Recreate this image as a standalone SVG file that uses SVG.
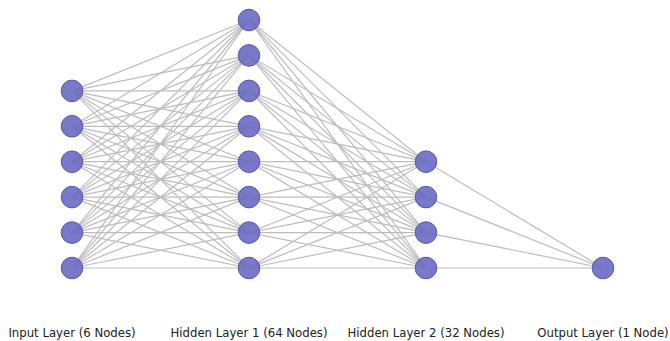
<svg xmlns="http://www.w3.org/2000/svg" width="670" height="341" viewBox="0 0 670 341">
<style>
.e{stroke:#bcbcbc;stroke-width:1.2;fill:none}
.n{fill:#6a6ac4;stroke:#5656b0;stroke-width:1;fill-opacity:0.9}
.t{font-family:"DejaVu Sans",sans-serif;font-size:11.7px;fill:#222;text-anchor:middle}
</style>
<rect width="670" height="341" fill="#fff"/>
<g id="edges">
<line class="e" x1="72" y1="268" x2="249" y2="268"/><line class="e" x1="72" y1="268" x2="249" y2="232.6"/><line class="e" x1="72" y1="268" x2="249" y2="197.1"/><line class="e" x1="72" y1="268" x2="249" y2="161.7"/><line class="e" x1="72" y1="268" x2="249" y2="126.3"/><line class="e" x1="72" y1="268" x2="249" y2="90.9"/><line class="e" x1="72" y1="268" x2="249" y2="55.4"/><line class="e" x1="72" y1="268" x2="249" y2="20"/>
<line class="e" x1="72" y1="232.6" x2="249" y2="268"/><line class="e" x1="72" y1="232.6" x2="249" y2="232.6"/><line class="e" x1="72" y1="232.6" x2="249" y2="197.1"/><line class="e" x1="72" y1="232.6" x2="249" y2="161.7"/><line class="e" x1="72" y1="232.6" x2="249" y2="126.3"/><line class="e" x1="72" y1="232.6" x2="249" y2="90.9"/><line class="e" x1="72" y1="232.6" x2="249" y2="55.4"/><line class="e" x1="72" y1="232.6" x2="249" y2="20"/>
<line class="e" x1="72" y1="197.1" x2="249" y2="268"/><line class="e" x1="72" y1="197.1" x2="249" y2="232.6"/><line class="e" x1="72" y1="197.1" x2="249" y2="197.1"/><line class="e" x1="72" y1="197.1" x2="249" y2="161.7"/><line class="e" x1="72" y1="197.1" x2="249" y2="126.3"/><line class="e" x1="72" y1="197.1" x2="249" y2="90.9"/><line class="e" x1="72" y1="197.1" x2="249" y2="55.4"/><line class="e" x1="72" y1="197.1" x2="249" y2="20"/>
<line class="e" x1="72" y1="161.7" x2="249" y2="268"/><line class="e" x1="72" y1="161.7" x2="249" y2="232.6"/><line class="e" x1="72" y1="161.7" x2="249" y2="197.1"/><line class="e" x1="72" y1="161.7" x2="249" y2="161.7"/><line class="e" x1="72" y1="161.7" x2="249" y2="126.3"/><line class="e" x1="72" y1="161.7" x2="249" y2="90.9"/><line class="e" x1="72" y1="161.7" x2="249" y2="55.4"/><line class="e" x1="72" y1="161.7" x2="249" y2="20"/>
<line class="e" x1="72" y1="126.3" x2="249" y2="268"/><line class="e" x1="72" y1="126.3" x2="249" y2="232.6"/><line class="e" x1="72" y1="126.3" x2="249" y2="197.1"/><line class="e" x1="72" y1="126.3" x2="249" y2="161.7"/><line class="e" x1="72" y1="126.3" x2="249" y2="126.3"/><line class="e" x1="72" y1="126.3" x2="249" y2="90.9"/><line class="e" x1="72" y1="126.3" x2="249" y2="55.4"/><line class="e" x1="72" y1="126.3" x2="249" y2="20"/>
<line class="e" x1="72" y1="90.9" x2="249" y2="268"/><line class="e" x1="72" y1="90.9" x2="249" y2="232.6"/><line class="e" x1="72" y1="90.9" x2="249" y2="197.1"/><line class="e" x1="72" y1="90.9" x2="249" y2="161.7"/><line class="e" x1="72" y1="90.9" x2="249" y2="126.3"/><line class="e" x1="72" y1="90.9" x2="249" y2="90.9"/><line class="e" x1="72" y1="90.9" x2="249" y2="55.4"/><line class="e" x1="72" y1="90.9" x2="249" y2="20"/>
<line class="e" x1="249" y1="268" x2="426" y2="268"/><line class="e" x1="249" y1="268" x2="426" y2="232.6"/><line class="e" x1="249" y1="268" x2="426" y2="197.1"/><line class="e" x1="249" y1="268" x2="426" y2="161.7"/>
<line class="e" x1="249" y1="232.6" x2="426" y2="268"/><line class="e" x1="249" y1="232.6" x2="426" y2="232.6"/><line class="e" x1="249" y1="232.6" x2="426" y2="197.1"/><line class="e" x1="249" y1="232.6" x2="426" y2="161.7"/>
<line class="e" x1="249" y1="197.1" x2="426" y2="268"/><line class="e" x1="249" y1="197.1" x2="426" y2="232.6"/><line class="e" x1="249" y1="197.1" x2="426" y2="197.1"/><line class="e" x1="249" y1="197.1" x2="426" y2="161.7"/>
<line class="e" x1="249" y1="161.7" x2="426" y2="268"/><line class="e" x1="249" y1="161.7" x2="426" y2="232.6"/><line class="e" x1="249" y1="161.7" x2="426" y2="197.1"/><line class="e" x1="249" y1="161.7" x2="426" y2="161.7"/>
<line class="e" x1="249" y1="126.3" x2="426" y2="268"/><line class="e" x1="249" y1="126.3" x2="426" y2="232.6"/><line class="e" x1="249" y1="126.3" x2="426" y2="197.1"/><line class="e" x1="249" y1="126.3" x2="426" y2="161.7"/>
<line class="e" x1="249" y1="90.9" x2="426" y2="268"/><line class="e" x1="249" y1="90.9" x2="426" y2="232.6"/><line class="e" x1="249" y1="90.9" x2="426" y2="197.1"/><line class="e" x1="249" y1="90.9" x2="426" y2="161.7"/>
<line class="e" x1="249" y1="55.4" x2="426" y2="268"/><line class="e" x1="249" y1="55.4" x2="426" y2="232.6"/><line class="e" x1="249" y1="55.4" x2="426" y2="197.1"/><line class="e" x1="249" y1="55.4" x2="426" y2="161.7"/>
<line class="e" x1="249" y1="20" x2="426" y2="268"/><line class="e" x1="249" y1="20" x2="426" y2="232.6"/><line class="e" x1="249" y1="20" x2="426" y2="197.1"/><line class="e" x1="249" y1="20" x2="426" y2="161.7"/>
<line class="e" x1="426" y1="268" x2="603" y2="268"/><line class="e" x1="426" y1="232.6" x2="603" y2="268"/><line class="e" x1="426" y1="197.1" x2="603" y2="268"/><line class="e" x1="426" y1="161.7" x2="603" y2="268"/>
</g>
<g id="input-layer">
<circle class="n" cx="72" cy="90.9" r="10.8"/><circle class="n" cx="72" cy="126.3" r="10.8"/><circle class="n" cx="72" cy="161.7" r="10.8"/><circle class="n" cx="72" cy="197.1" r="10.8"/><circle class="n" cx="72" cy="232.6" r="10.8"/><circle class="n" cx="72" cy="268" r="10.8"/>
</g>
<g id="hidden-layer-1">
<circle class="n" cx="249" cy="20" r="10.8"/><circle class="n" cx="249" cy="55.4" r="10.8"/><circle class="n" cx="249" cy="90.9" r="10.8"/><circle class="n" cx="249" cy="126.3" r="10.8"/><circle class="n" cx="249" cy="161.7" r="10.8"/><circle class="n" cx="249" cy="197.1" r="10.8"/><circle class="n" cx="249" cy="232.6" r="10.8"/><circle class="n" cx="249" cy="268" r="10.8"/>
</g>
<g id="hidden-layer-2">
<circle class="n" cx="426" cy="161.7" r="10.8"/><circle class="n" cx="426" cy="197.1" r="10.8"/><circle class="n" cx="426" cy="232.6" r="10.8"/><circle class="n" cx="426" cy="268" r="10.8"/>
</g>
<g id="output-layer">
<circle class="n" cx="603" cy="268" r="10.8"/>
</g>
<g id="labels">
<text class="t" x="72" y="337">Input Layer (6 Nodes)</text>
<text class="t" x="249" y="337">Hidden Layer 1 (64 Nodes)</text>
<text class="t" x="426" y="337">Hidden Layer 2 (32 Nodes)</text>
<text class="t" x="603" y="337">Output Layer (1 Node)</text>
</g>
</svg>
